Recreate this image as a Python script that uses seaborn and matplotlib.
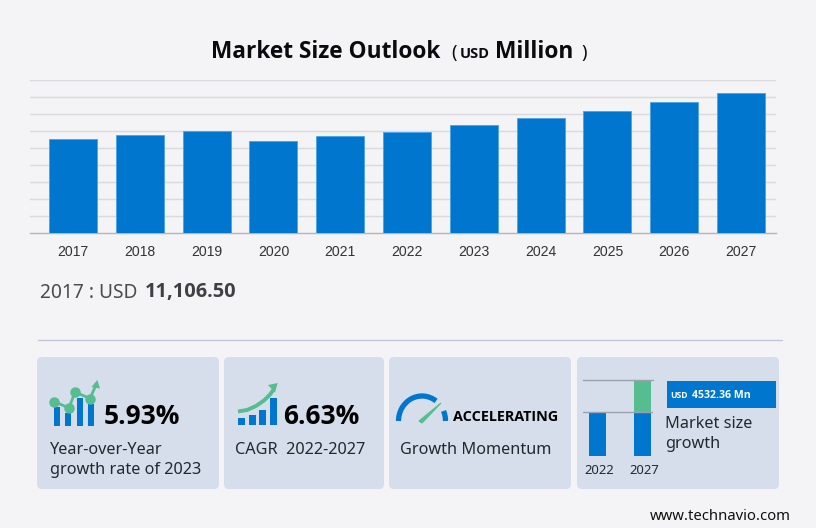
import numpy as np
import pandas as pd
import seaborn as sns
import matplotlib
matplotlib.use("Agg")
import matplotlib.pyplot as plt
from matplotlib.patches import FancyBboxPatch, Rectangle, Arc, Polygon
from matplotlib.transforms import ScaledTranslation

years = ["2017","2018","2019","2020","2021","2022","2023","2024","2025","2026","2027"]
market_size = [11106.5, 11570, 12090, 10860, 11390, 11975, 12690, 13510, 14390, 15390, 16507]
grid_values = list(range(2000, 20000, 2000))
mini_years = ["2022", "2027"]
mini_base = [44, 44]
mini_growth = [0, 32]

BG = "#f4f4f6"; CARD = "#d5deea"; BLUE = "#0076ce"; GREEN = "#55bd8f"; INK = "#0b0b0f"; SOFT = "#222831"
W, H = 816, 528
SANS = "Noto Sans"
BOLD = "Open Sans"

sns.set_theme(style="white", rc={"figure.facecolor": BG, "axes.facecolor": "none"})
plt.rcParams["font.family"] = [SANS, "DejaVu Sans"]
fig = plt.figure(figsize=(W/100, H/100), dpi=100, facecolor=BG)

def px_axes(x0, y0, x1, y1, **kw):
    return fig.add_axes([x0/W, 1-y1/H, (x1-x0)/W, (y1-y0)/H], **kw)

ov = px_axes(0, 0, W, H, zorder=0)
ov.set_xlim(0, W); ov.set_ylim(H, 0); ov.axis("off")

ax = px_axes(30, 80.3, 776, 233.3, zorder=2)
df = pd.DataFrame({"year": years, "size": market_size})
sns.barplot(data=df, x="year", y="size", color=BLUE, saturation=1, width=0.72,
            edgecolor="#4aa3e6", linewidth=0.6, ax=ax, zorder=3)
ax.set_xlim(-0.644, 10.524); ax.set_ylim(0, 18000)
ax.set_yticks(grid_values); ax.set_yticklabels([])
ax.yaxis.grid(True, color="#d9d9de", linewidth=1); ax.set_axisbelow(True)
ax.set_xlabel(""); ax.set_ylabel("")
sns.despine(ax=ax, left=True, top=True, right=True)
ax.spines["bottom"].set_color("#b4b4ba"); ax.spines["bottom"].set_linewidth(1)
ax.tick_params(axis="x", length=0, pad=8.5, labelsize=10.1, labelcolor="#333333")
for t in ax.get_xticklabels():
    t.set_fontfamily("Liberation Sans")
ax.tick_params(axis="y", length=0)

def T(x, y, s, size, weight="normal", color=INK, ha="left", va="center", family=None):
    fam = family or (BOLD if weight == "bold" else SANS)
    return ov.text(x, y, s, fontsize=size, fontweight=weight, color=color, ha=ha, va=va, family=fam)

T(211, 52.5, "Market Size Outlook", 16.3, "bold")
T(451, 53, "(", 13, "normal")
T(460, 54.5, "USD", 10.5, "bold")
T(495, 52.5, "Million", 16.4, "bold")
T(581, 53, ")", 13, "normal")

T(40, 293, "2017 : USD", 13.8, color="#4a4a4f")
T(145, 292, "11,106.50", 14.4, "bold", color="#3f3f44")

ov.plot([38, 782], [340, 340], color="#c3c5d6", lw=1)

for x0, x1 in [(37, 219), (224, 384), (389, 571), (577, 779)]:
    ov.add_patch(FancyBboxPatch((x0+4, 357+4), x1-x0-8, 132-8,
                 boxstyle="round,pad=4,rounding_size=5", fc=CARD, ec="none"))

# card 1
for x, top in zip([54, 65, 77, 88], [407, 413, 398, 404]):
    ov.add_patch(Rectangle((x, top), 6, 426-top, fc=BLUE, ec="none"))
line1 = ([54, 69, 75, 90, 96], [401.5, 408, 392, 398.5, 385])
ov.plot(line1[0], line1[1], color=GREEN, lw=2)
ov.plot(line1[0][:4], line1[1][:4], "o", color=GREEN, ms=6.5)
ov.add_patch(Polygon([[97.3, 380], [100, 388.5], [91.5, 387]], fc=GREEN, ec="none"))
T(104, 416, "5.93%", 19, "bold", color="#000000")
T(50, 449.5, "Year-over-Year", 11.7, color=SOFT)
T(50, 469.5, "growth rate of 2023", 11.7, color=SOFT)

# card 2
for x, top in zip([238, 249, 259, 270], [417.5, 414.5, 409.5, 398]):
    ov.add_patch(Rectangle((x, top), 7, 425-top, fc=BLUE, ec="none"))
cx = [238, 247, 256, 264, 270, 274]; cy = [411.5, 410, 406, 400.5, 394.5, 389]
ov.plot(cx, cy, color=GREEN, lw=2.8, solid_capstyle="butt")
ov.add_patch(Polygon([[277.7, 383], [268, 385], [275, 392.5]], fc=GREEN, ec="none"))
T(283, 416, "6.63%", 19, "bold", color="#000000")
T(235, 449.5, "CAGR  2022-2027", 11.7, color=SOFT)

# card 3
ov.add_patch(Arc((422, 421), 47, 50, theta1=180, theta2=305, color=BLUE, lw=3.8))
ov.add_patch(Arc((422, 421), 47, 50, theta1=335, theta2=360, color=BLUE, lw=3.8))
ov.add_patch(Polygon([[419, 421], [422, 423], [441, 403]], fc=GREEN, ec=GREEN, lw=0.8))
T(453, 417, "ACCELERATING", 10.4, "bold", color="#000000")
T(400, 449.5, "Growth Momentum", 11.7, color=SOFT)

# card 4
mini = px_axes(583, 380, 653, 456, zorder=2)
mdf = pd.DataFrame({"year": mini_years, "base": mini_base, "growth": mini_growth})
sns.barplot(data=mdf, x="year", y="base", color=BLUE, saturation=1, width=0.38,
            linewidth=0, ax=mini, zorder=3)
mini.bar(range(2), mdf["growth"], bottom=mdf["base"], color=GREEN, width=0.38, linewidth=0, zorder=3)
mini.set_xlim(-0.322, 1.233); mini.set_ylim(0, 76)
mini.axhline(76, color="#9aa3ad", lw=1, zorder=4, clip_on=False)
mini.axhline(44, color="#9aa3ad", lw=1, zorder=4)
mini.set_xlabel(""); mini.set_ylabel(""); mini.set_yticks([])
sns.despine(ax=mini, left=True, top=True, right=True, bottom=True)
mini.tick_params(axis="x", length=0, pad=5.5, labelsize=9.4, labelcolor=SOFT)
for t in mini.get_xticklabels():
    t.set_transform(t.get_transform() + ScaledTranslation(1.5/100, 0, fig.dpi_scale_trans))

ov.add_patch(Rectangle((667, 381), 109, 27, fc=BLUE, ec="none"))
T(670, 396, "USD", 6.2, "bold", color="white")
T(692, 395.5, "4532.36 Mn", 7.6, "bold", color="white")
T(665, 424.5, "Market size", 11.7, color=SOFT)
T(665, 444.5, "growth", 11.7, color=SOFT)

T(650, 517, "www.technavio.com", 10.7, color="#111111")

fig.savefig("out.png", dpi=100, facecolor=BG)
